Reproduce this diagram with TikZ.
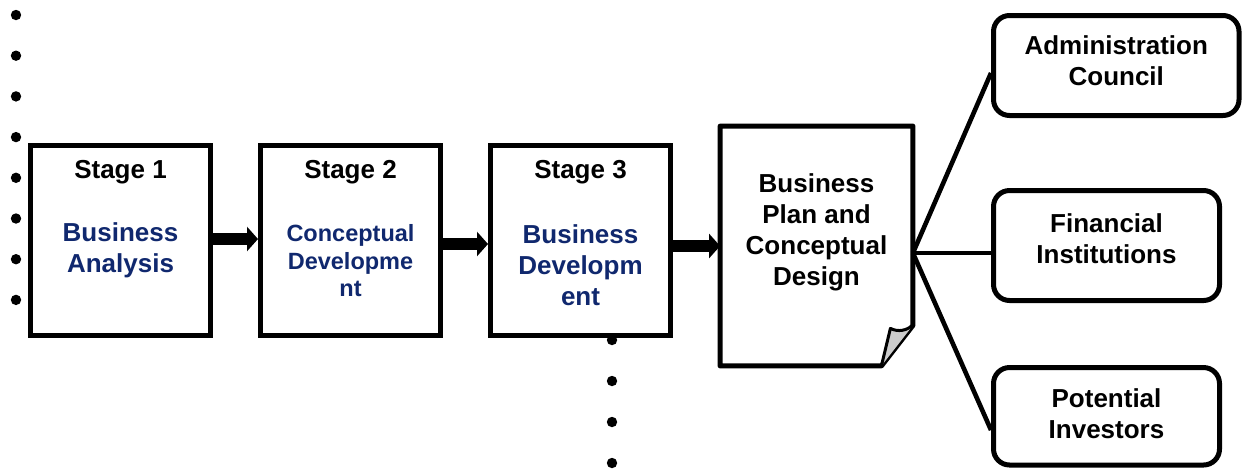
\documentclass[tikz,border=0pt]{standalone}
\usepackage{fontspec}
\setmainfont{Liberation Sans}
\usetikzlibrary{arrows.meta}
\definecolor{stagenavy}{RGB}{16,40,110}
\begin{document}
\begin{tikzpicture}[x=0.5pt,y=-0.5pt,
  stagebox/.style={draw,line width=2.5pt,fill=white,minimum width=90pt,minimum height=95pt,inner sep=0pt},
  partybox/.style={draw,line width=2.5pt,rounded corners=8pt,fill=white,inner sep=0pt},
  stagelbl/.style={font=\bfseries\fontsize{13}{15.5}\selectfont},
  stagetxt/.style={align=center,text=stagenavy,font=\bfseries\fontsize{13}{15.5}\selectfont},
  partytxt/.style={align=center,font=\bfseries\fontsize{13}{15.5}\selectfont},
  flow/.style={line width=6pt,-{Triangle[length=5.5pt,width=12pt]}},
  spoke/.style={line width=2.3pt}]%
% stages, plan and parties
\useasboundingbox (0,0) rectangle (1242,468);
\foreach \k in {0,...,7} \fill (16,15+40.7*\k) circle (2.6pt);
\foreach \k in {0,...,3} \fill (612,340+41*\k) circle (2.6pt);
\node[stagebox] (b1) at (120.5,240.5) {};
\node[stagebox] (b2) at (350.5,240.5) {};
\node[stagebox] (b3) at (580.5,240.5) {};
\node[stagelbl] (s1) at (120.5,172) {Stage 1};
\node[stagelbl] (s2) at (350.5,172) {Stage 2};
\node[stagelbl] (s3) at (580.5,172) {Stage 3};
\node[stagetxt] (t1) at (120.5,250.5) {Business\\Analysis};
\node[stagetxt,font=\bfseries\fontsize{11.75}{13.75}\selectfont] (t2) at (350.5,261) {Conceptual\\Developme\\nt};
\node[stagetxt] (t3) at (580.5,265) {Business\\Developm\\ent};
\node[minimum width=96pt,minimum height=119.5pt,inner sep=0pt] (doc) at (816.5,246) {};
\filldraw[fill=white,line width=2.5pt,line join=round] (doc.north west) -- (doc.north east)
 -- ([yshift=20.25pt]doc.south east) -- ([xshift=-15.75pt]doc.south east)
 -- (doc.south west) -- cycle;
\filldraw[fill=black!20,line width=1.5pt,line join=round] ([xshift=-15.75pt]doc.south east)
 -- ([xshift=-11.25pt,yshift=18.75pt]doc.south east)
 .. controls ([xshift=-7.25pt,yshift=16.75pt]doc.south east) and ([xshift=-3.25pt,yshift=17.75pt]doc.south east)
 .. ([yshift=20.25pt]doc.south east);
\node[partytxt] (dt) at (816.5,232) {Business\\Plan and\\Conceptual\\Design};
\draw[flow] ([yshift=0.75pt]b1.east) -- ([yshift=0.75pt]b2.west);
\draw[flow] ([yshift=-1.75pt]b2.east) -- ([yshift=-1.75pt]b3.west);
\draw[flow] (b3.east |- doc.west) -- (doc.west);
\node[partybox,minimum width=122.75pt,minimum height=50pt] (admin) at (1116.25,65.5) {};
\node[partybox,minimum width=113pt,minimum height=55pt] (fin) at (1106.5,245.5) {};
\node[partybox,minimum width=113pt,minimum height=48.75pt] (pot) at (1106.5,416.25) {};
\node[partytxt] (at) at (1116.25,61) {Administration\\Council};
\node[partytxt] (ft) at (1106.5,238.5) {Financial\\Institutions};
\node[partytxt] (pt) at (1106.5,413.5) {Potential\\Investors};
\coordinate (hub) at ([yshift=-3.5pt]doc.east);
\draw[spoke] (hub) -- ([yshift=-3.75pt]admin.west);
\draw[spoke] (hub) -- ([yshift=-3.75pt]fin.west);
\draw[spoke] (hub) -- ([yshift=-6.9pt]pot.west);
\end{tikzpicture}
\end{document}
